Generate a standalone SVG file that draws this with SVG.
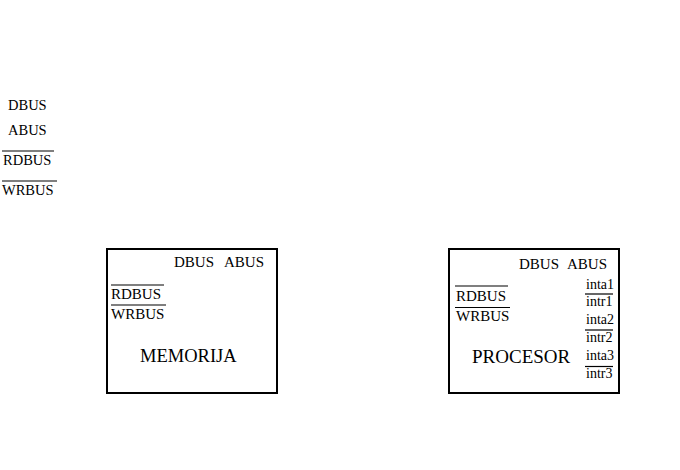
<svg xmlns="http://www.w3.org/2000/svg" width="680" height="470" viewBox="0 0 680 470" font-family="'Liberation Serif', 'Times New Roman', serif">
<style>
text{font-family:"Liberation Serif","Times New Roman",serif;fill:#000}
.s{font-size:14.5px}
.m{font-size:15px}
.i{font-size:14px}
.big{font-size:18.5px}
.box{fill:#fff;stroke:#000;stroke-width:2}
.ovl{stroke:#000;stroke-width:1.2}
</style>
<rect width="680" height="470" fill="#fff"/>
<g id="signals">
<text class="s" x="8" y="110">DBUS</text>
<text class="s" x="8" y="135">ABUS</text>
<text class="s" x="3" y="165">RDBUS</text>
<line class="ovl" x1="2" y1="151" x2="54" y2="151"/>
<text class="s" x="2" y="195">WRBUS</text>
<line class="ovl" x1="2" y1="181" x2="57" y2="181"/>
</g>
<g id="memorija">
<rect class="box" x="107" y="249" width="170" height="144"/>
<text class="m" x="174" y="267">DBUS</text>
<text class="m" x="224" y="267">ABUS</text>
<text class="m" x="111" y="299">RDBUS</text>
<line class="ovl" x1="111" y1="285" x2="164" y2="285"/>
<text class="m" x="111" y="319">WRBUS</text>
<line class="ovl" x1="111" y1="305" x2="166" y2="305"/>
<text class="big" x="140" y="362">MEMORIJA</text>
</g>
<g id="procesor">
<rect class="box" x="449" y="249" width="170" height="144"/>
<text class="m" x="519" y="269">DBUS</text>
<text class="m" x="567" y="269">ABUS</text>
<text class="m" x="456" y="301">RDBUS</text>
<line class="ovl" x1="455" y1="286" x2="508" y2="286"/>
<text class="m" x="456" y="320.5">WRBUS</text>
<line class="ovl" x1="455" y1="307.5" x2="510" y2="307.5"/>
<text class="big" x="472" y="363" style="font-size:19px">PROCESOR</text>
<text class="i" x="586" y="289">inta1</text>
<text class="i" x="586" y="306">intr1</text>
<line class="ovl" x1="585" y1="294" x2="613" y2="294"/>
<text class="i" x="586" y="324">inta2</text>
<text class="i" x="586" y="342">intr2</text>
<line class="ovl" x1="585" y1="330" x2="613" y2="330"/>
<text class="i" x="586" y="359.5">inta3</text>
<text class="i" x="586" y="378">intr3</text>
<line class="ovl" x1="585" y1="366.5" x2="613" y2="366.5"/>
</g>
<g id="connectors"></g>
</svg>
